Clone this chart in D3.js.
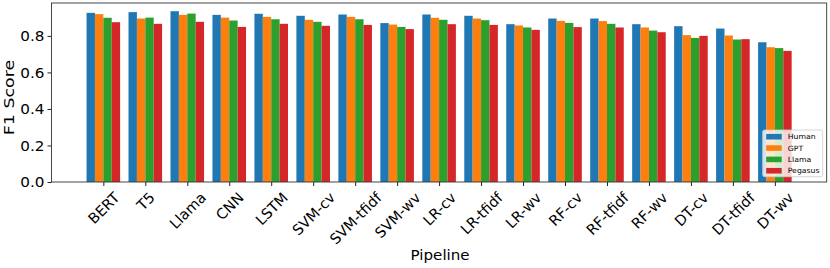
<!DOCTYPE html>
<html>
<head>
<meta charset="utf-8">
<script src="https://cdn.jsdelivr.net/npm/d3@7"></script>
<style>
  body { margin: 0; background: #fff; }
  svg { display: block; font-family: "DejaVu Sans", sans-serif; }
</style>
</head>
<body>
<figure style="margin:0"></figure>
<script>
  // pipelines on the x axis
  const pipelines = ["BERT", "T5", "Llama", "CNN", "LSTM", "SVM-cv", "SVM-tfidf", "SVM-wv",
    "LR-cv", "LR-tfidf", "LR-wv", "RF-cv", "RF-tfidf", "RF-wv", "DT-cv", "DT-tfidf", "DT-wv"]

  // series names
  const seriesNames = ["Human", "GPT", "Llama", "Pegasus"]

  // F1 scores per series (one per pipeline)
  const human   = [0.926, 0.930, 0.935, 0.915, 0.921, 0.910, 0.917, 0.870, 0.917, 0.910, 0.864, 0.895, 0.895, 0.864, 0.853, 0.840, 0.765]
  const gpt     = [0.919, 0.895, 0.915, 0.900, 0.904, 0.888, 0.904, 0.862, 0.899, 0.895, 0.857, 0.882, 0.881, 0.846, 0.804, 0.802, 0.738]
  const llama   = [0.899, 0.900, 0.922, 0.884, 0.891, 0.877, 0.891, 0.849, 0.888, 0.886, 0.846, 0.871, 0.866, 0.829, 0.789, 0.780, 0.733]
  const pegasus = [0.875, 0.866, 0.877, 0.849, 0.866, 0.855, 0.860, 0.837, 0.864, 0.860, 0.833, 0.848, 0.846, 0.820, 0.800, 0.782, 0.718]

  const yTicks = [0.0, 0.2, 0.4, 0.6, 0.8]
  const colors = ["#1f77b4", "#ff7f0e", "#2ca02c", "#d62728"]

  ////////////////////////////////////
  ///////////// SVG Setup ////////////
  ////////////////////////////////////

  const svgWidth = 830
  const svgHeight = 268
  const margin = { left: 51.5, right: 3.3, top: 3, bottom: 86 }
  const width = svgWidth - margin.left - margin.right
  const height = svgHeight - margin.top - margin.bottom

  const svg = d3.select('figure')
    .append('svg')
    .attr('width', svgWidth)
    .attr('height', svgHeight)
    .append('g')
    .attr('transform', `translate(${margin.left},${margin.top})`)

  const series = [human, gpt, llama, pegasus]
  const data = []
  series.forEach((vals, k) => vals.forEach((v, i) => data.push({ i, k, v })))

  ////////////////////////////////////
  ///////////// Scales ///////////////
  ////////////////////////////////////

  const pad = 1.235
  const x = d3.scaleLinear()
    .domain([-pad, pipelines.length - 1 + pad])
    .range([0, width])

  const y = d3.scaleLinear()
    .domain([0, 0.98])
    .range([height, 0])

  const barW = 0.2

  ////////////////////////////////////
  ///////////// Bars /////////////////
  ////////////////////////////////////

  svg.append('g')
    .selectAll('rect')
    .data(data)
    .enter().append('rect')
    .attr('x', d => x(d.i + (d.k - 1.5) * barW - barW / 2))
    .attr('width', d => x(barW) - x(0))
    .attr('y', d => y(d.v))
    .attr('height', d => y(0) - y(d.v))
    .attr('fill', d => colors[d.k])

  ////////////////////////////////////
  ///////////// Axes /////////////////
  ////////////////////////////////////

  const fs = 14.5

  const yAxis = svg.append('g')
    .attr('font-family', null)
    .call(d3.axisLeft(y).tickValues(yTicks).tickFormat(d3.format('.1f')).tickSize(4))
  yAxis.attr('font-family', null)
  yAxis.select('.domain').remove()
  yAxis.selectAll('line').attr('stroke', '#222')
  yAxis.selectAll('text')
    .style('font-size', fs + 'px')
    .attr('fill', '#000')
    .attr('x', 0)
    .attr('transform', 'translate(-7,0) scale(1.05,1)')

  const xAxis = svg.append('g')
    .attr('transform', `translate(0,${height})`)
    .call(d3.axisBottom(x).tickValues(d3.range(pipelines.length)).tickFormat(i => pipelines[i]).tickSize(4))
  xAxis.attr('font-family', null)
  xAxis.select('.domain').remove()
  xAxis.selectAll('line').attr('stroke', '#222')

  // rotate labels 45deg, bounding box centred under the tick
  const boxH = fs * 1.164
  const top0 = 7
  xAxis.selectAll('text')
    .style('font-size', fs + 'px')
    .attr('fill', '#000')
    .attr('text-anchor', 'middle')
    .attr('dy', null)
    .each(function () {
      const t = d3.select(this)
      const w = this.getComputedTextLength()
      const cy = top0 + (w + boxH) / (2 * Math.SQRT2)
      t.attr('y', 0)
        .attr('transform', `translate(0,${cy}) rotate(-45)`)
        .attr('dy', '0.35em')
    })

  // frame
  svg.append('rect')
    .attr('x', 0)
    .attr('y', 0)
    .attr('width', width)
    .attr('height', height)
    .attr('fill', 'none')
    .attr('stroke', '#333')
    .attr('stroke-width', 0.9)

  // axis titles
  svg.append('text')
    .attr('transform', `translate(${14 - margin.left},${97.5 - margin.top}) rotate(-90) scale(1.2,1)`)
    .attr('text-anchor', 'middle')
    .style('font-size', '14.5px')
    .text('F1 Score')

  svg.append('text')
    .attr('transform', `translate(${width / 2 + 1},${height + 78.3}) scale(1.04,1)`)
    .attr('text-anchor', 'middle')
    .style('font-size', '14.5px')
    .text('Pipeline')

  ////////////////////////////////////
  ///////////// Legend ///////////////
  ////////////////////////////////////

  const lx = 762.7 - margin.left
  const ly = 130 - margin.top
  const legend = svg.append('g')
    .attr('transform', `translate(${lx},${ly})`)

  legend.append('rect')
    .attr('width', 60)
    .attr('height', 46.7)
    .attr('rx', 2)
    .attr('fill', '#fff')
    .attr('fill-opacity', 0.8)
    .attr('stroke', '#ccc')
    .attr('stroke-width', 0.8)

  seriesNames.forEach((name, k) => {
    const cy = 6.7 + k * 11.35
    legend.append('rect')
      .attr('x', 3.5)
      .attr('y', cy - 2.8)
      .attr('width', 15.5)
      .attr('height', 5.6)
      .attr('fill', colors[k])
    legend.append('text')
      .attr('transform', `translate(25,${cy}) scale(1.08,1)`)
      .attr('dy', '0.35em')
      .style('font-size', '7.2px')
      .text(name)
  })
</script>
</body>
</html>
